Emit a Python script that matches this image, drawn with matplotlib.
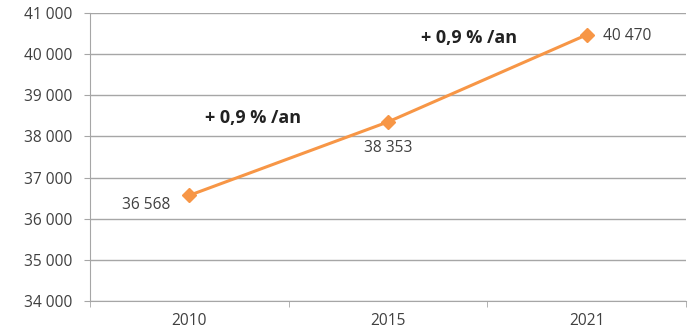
import matplotlib
matplotlib.use("Agg")
import matplotlib.pyplot as plt
from matplotlib.ticker import FuncFormatter

years = ["2010", "2015", "2021"]
population = [36568, 38353, 40470]
value_labels = ["36 568", "38 353", "40 470"]
growth_labels = ["+ 0,9 % /an", "+ 0,9 % /an"]

plt.rcParams["font.family"] = ["Open Sans", "DejaVu Sans"]
text_color = "#404040"
grid_color = "#a6a6a6"
orange = "#F79646"

fig = plt.figure(figsize=(6.88, 3.34), dpi=100)
ax = fig.add_axes([0.131, 0.099, 0.866, 0.862])

x = list(range(len(years)))
ax.plot(x, population, color=orange, lw=2.2, marker="D", ms=7,
        mec=orange, mfc=orange, zorder=3)

ax.set_xlim(-0.5, len(years) - 0.5)
ax.set_ylim(34000, 41000)
ax.set_yticks(range(34000, 41001, 1000))
ax.yaxis.set_major_formatter(FuncFormatter(lambda v, p: f"{int(v):,}".replace(",", " ")))
ax.set_xticks(x)
ax.set_xticklabels(years)
ax.set_xticks([i + 0.5 for i in range(-1, len(years))], minor=True)

ax.grid(axis="y", color=grid_color, lw=1)
ax.set_axisbelow(True)
for s in ["top", "right"]:
    ax.spines[s].set_visible(False)
for s in ["left", "bottom"]:
    ax.spines[s].set_color(grid_color)

ax.tick_params(axis="y", colors=grid_color, labelcolor=text_color, labelsize=11.2, length=4.3, pad=8.5)
ax.tick_params(axis="x", which="major", length=0, labelcolor=text_color, labelsize=11.2, pad=9)
ax.tick_params(axis="x", which="minor", length=4, color=grid_color)

# data labels
offsets = [(-31, -7), (0, -19), (29.5, -1)]
for xi, yi, lab, off in zip(x, population, value_labels, offsets):
    ax.annotate(lab, (xi, yi), xytext=off, textcoords="offset points",
                ha="center", va="center", fontsize=11.2, color=text_color)

# growth annotations
ax.text(0.32, 38450, growth_labels[0], ha="center", va="center",
        fontsize=13, fontweight="bold", color="#222222")
ax.text(1.41, 40390, growth_labels[1], ha="center", va="center",
        fontsize=13, fontweight="bold", color="#222222")

fig.savefig("out.png", dpi=100)
